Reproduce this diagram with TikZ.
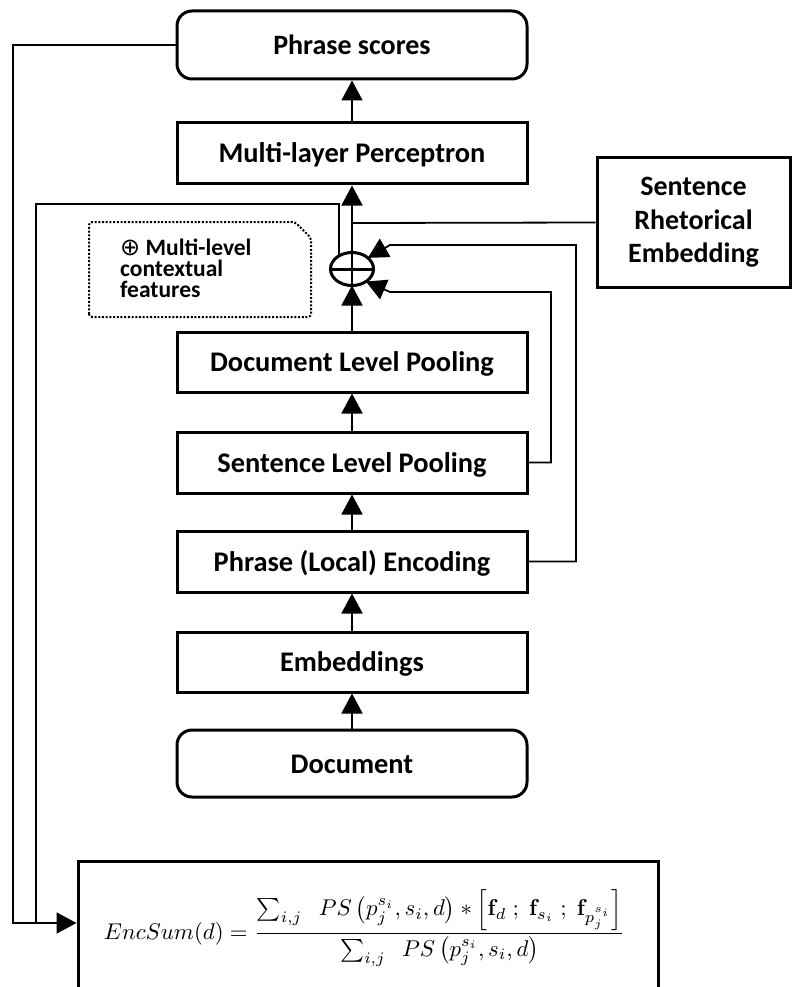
\documentclass[tikz,border=0pt]{standalone}
\usepackage[no-math]{fontspec}
\setmainfont{Carlito}
\newfontfamily\dejavu{DejaVu Sans}
\usetikzlibrary{arrows.meta,shapes.geometric}
\begin{document}
\begin{tikzpicture}[x=1pt,y={(0pt,-1pt)},
  box/.style={draw, line width=3pt, minimum width=350pt, inner sep=0pt,
    font=\fontsize{28.4}{34}\selectfont\bfseries, text height=23pt, text depth=4pt},
  rbox/.style={box, rounded corners=15pt},
  psbox/.style={draw, line width=3pt, minimum width=350pt, inner sep=0pt, rounded corners=15pt,
    font=\fontsize{28}{33}\selectfont\bfseries, text height=22pt, text depth=2pt},
  conn/.style={line width=1.8pt},
  arr/.style={conn, -{Triangle[width=21pt,length=20pt]}},
  dotline/.style={line width=2pt, dash pattern=on 2pt off 1.7pt}]
\useasboundingbox (0,0) rectangle (792,987);
\fill[white] (0,0) rectangle (792,987);

% main column
\node[psbox, minimum height=68pt] (ps) at (352,45) {Phrase scores};
\node[box, minimum height=61pt] (mlp) at (352,153.5) {Multi-layer Perceptron};
\node[box, minimum height=60pt] (dlp) at (352,362) {Document Level Pooling};
\node[box, minimum height=61pt] (slp) at (352,462.5) {Sentence Level Pooling};
\node[box, minimum height=61pt] (ple) at (352,561.5) {Phrase (Local) Encoding};
\node[box, minimum height=60pt] (emb) at (352,662) {Embeddings};
\node[rbox, minimum height=67pt] (doc) at (352,763.5) {Document};

% sentence rhetorical embedding
\node[draw, line width=3pt, minimum width=193pt, minimum height=129pt, inner sep=0pt,
  align=center, font=\fontsize{28}{33.5}\selectfont\bfseries] (sre) at (693.5,222.5)
  {Sentence\\Rhetorical\\Embedding};

% concatenation symbol
\node[ellipse, draw, line width=3pt, minimum width=43pt, minimum height=33pt,
  inner sep=0pt, outer sep=0pt] (circ) at (352,269) {};
\draw[line width=3pt] (circ.west) -- (circ.east);

% dotted legend
\draw[dotline, rounded corners=3pt] (89,317) -- (89,222) -- (295,222) -- (311,238) -- (311,317) -- cycle;
\node[anchor=north west, inner sep=0pt, align=left,
  font=\fontsize{23.5}{21.3}\selectfont\bfseries] (mlf) at (120,238.5)
  {{\dejavu\mdseries\fontsize{24}{21.3}\selectfont ⊕} Multi-level\\contextual\\features};

% formula box
\node[draw, line width=3pt, minimum width=580pt, minimum height=134pt, inner sep=0pt] (enc) at (368,928)
  {\scalebox{2.28}{$\displaystyle EncSum(d)=\frac{\sum_{i,j}\;\;PS\left(p_j^{s_i},s_i,d\right)*\left[\mathbf{f}_d\;;\;\mathbf{f}_{s_i}\;;\;\mathbf{f}_{p_j^{s_i}}\right]}{\sum_{i,j}\;\;PS\left(p_j^{s_i},s_i,d\right)}$}\hspace*{7pt}};

% vertical flow
\draw[arr] (mlp.north) -- (ps.south);
\draw[arr] (circ.south) -- (mlp.south);
\draw[arr] (dlp.north) -- (circ.south);
\draw[arr] (slp.north) -- (dlp.south);
\draw[arr] (ple.north) -- (slp.south);
\draw[arr] (emb.north) -- (ple.south);
\draw[arr] (doc.north) -- (emb.south);

% side feeds into the circle
\draw[arr] (ple.east) -| (576,245) -- (390,245) -- (circ.35);
\draw[arr] (slp.east) -| (551,292) -- (390,292) -- (circ.-42);

% sentence rhetorical embedding link
\coordinate (j) at (352,223);
\draw[conn] (j) -- (sre.west);

% left feedback lines to EncSum
\coordinate (bA) at (36,204);
\coordinate (jA) at (36,923);
\coordinate (bB) at (13,923);
\draw[conn] (circ.135) |- (bA) -- (jA);
\draw[arr] (ps.west) -| (bB) -- (enc.west |- bB);
\end{tikzpicture}
\end{document}
